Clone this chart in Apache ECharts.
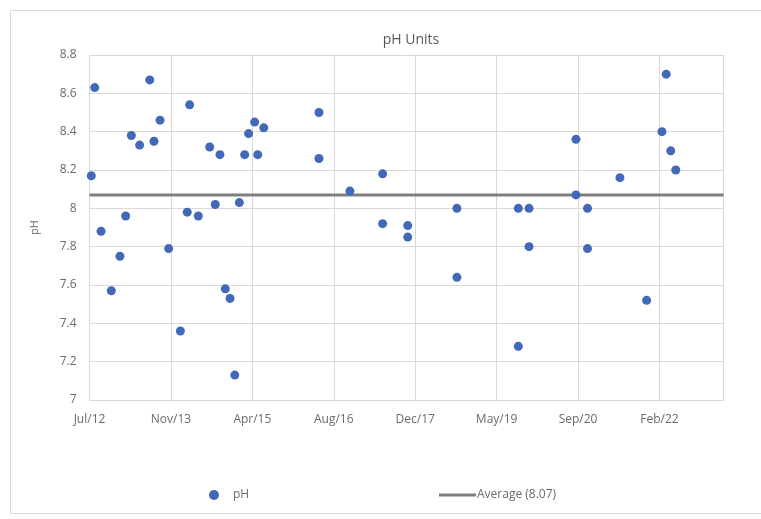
<!DOCTYPE html>
<html>
<head>
<meta charset="utf-8">
<script src="https://cdn.jsdelivr.net/npm/echarts@6/dist/echarts.min.js"></script>
<style>
  html, body { margin: 0; padding: 0; background: #ffffff; }
  #chart { width: 761px; height: 519px; }
</style>
</head>
<body>
<div id="chart"></div>
<script>
// Sampling dates and measured pH
const sampleDates = [
  '2012-07-18', '2012-08-08', '2012-09-16', '2012-11-18', '2013-01-10', '2013-02-14',
  '2013-03-21', '2013-05-11', '2013-07-12', '2013-08-07', '2013-09-13', '2013-11-05',
  '2014-01-16', '2014-02-27', '2014-03-14', '2014-05-06', '2014-07-15', '2014-08-18',
  '2014-09-16', '2014-10-19', '2014-11-17', '2014-12-16', '2015-01-13', '2015-02-15',
  '2015-03-11', '2015-04-17', '2015-05-06', '2015-06-12', '2016-05-16', '2016-05-16',
  '2016-11-22', '2017-06-11', '2017-06-11', '2017-11-12', '2017-11-12', '2018-09-10',
  '2018-09-10', '2019-09-22', '2019-09-22', '2019-11-27', '2019-11-27', '2020-09-10',
  '2020-09-10', '2020-11-20', '2020-11-20', '2021-06-07', '2021-11-18', '2022-02-20',
  '2022-03-18', '2022-04-15', '2022-05-16'
];
const phValues = [
  8.17, 8.63, 7.88, 7.57, 7.75, 7.96,
  8.38, 8.33, 8.67, 8.35, 8.46, 7.79,
  7.36, 7.98, 8.54, 7.96, 8.32, 8.02,
  8.28, 7.58, 7.53, 7.13, 8.03, 8.28,
  8.39, 8.45, 8.28, 8.42, 8.50, 8.26,
  8.09, 8.18, 7.92, 7.91, 7.85, 7.64,
  8.00, 8.00, 7.28, 8.00, 7.80, 8.36,
  8.07, 8.00, 7.79, 8.16, 7.52, 8.40,
  8.70, 8.30, 8.20
];

// Date axis: day offsets from the axis start, one major unit every 500 days
const axisStartDate = '2012-07-07';
const axisEndDays = 3893;
const xMajorDays = 500;
const xTickLabels = ['Jul/12', 'Nov/13', 'Apr/15', 'Aug/16', 'Dec/17', 'May/19', 'Sep/20', 'Feb/22'];

// pH axis
const yMin = 7, yMax = 8.8, yStep = 0.2;

const DAY_MS = 86400000;
const startMs = Date.parse(axisStartDate);
const toDays = d => (Date.parse(d) - startMs) / DAY_MS;

const points = sampleDates.map((d, i) => [toDays(d), phValues[i]]);
const mean = phValues.reduce((a, b) => a + b, 0) / phValues.length;
const meanRounded = Math.round(mean * 100) / 100;
const avgName = 'Average (' + meanRounded.toFixed(2) + ')';

const textColor = '#6b6b6b';
const gridColor = '#d9d9d9';
const markerColor = '#4169b8';
const avgColor = '#7f7f7f';
const fontFamily = '"Open Sans", "Liberation Sans", sans-serif';

const chart = echarts.init(document.getElementById('chart'), null, { renderer: 'canvas' });

chart.setOption({
  animation: false,
  backgroundColor: '#ffffff',
  textStyle: { fontFamily: fontFamily },
  title: {
    text: 'pH Units',
    left: 406,
    textAlign: 'center',
    top: 28,
    textStyle: { fontSize: 14, fontWeight: 'normal', color: '#595959', fontFamily: fontFamily }
  },
  graphic: [{
    type: 'rect',
    shape: { x: 10.5, y: 10.5, width: 760, height: 503 },
    style: { fill: 'none', stroke: '#d9d9d9', lineWidth: 1 },
    silent: true,
    z: -1
  }],
  grid: { left: 89.5, right: 37.5, top: 55, bottom: 119, containLabel: false },
  xAxis: {
    type: 'value',
    min: 0,
    max: axisEndDays,
    interval: xMajorDays,
    axisLine: { show: true, lineStyle: { color: gridColor, width: 1 } },
    axisTick: { show: false },
    splitLine: { show: true, lineStyle: { color: gridColor, width: 1 } },
    axisLabel: {
      color: textColor,
      fontSize: 12,
      fontFamily: fontFamily,
      margin: 14,
      showMaxLabel: false,
      formatter: v => (v % xMajorDays === 0 ? (xTickLabels[Math.round(v / xMajorDays)] || '') : '')
    }
  },
  yAxis: {
    type: 'value',
    min: yMin,
    max: yMax,
    interval: yStep,
    name: 'pH',
    nameLocation: 'middle',
    nameGap: 49,
    nameRotate: 90,
    nameTextStyle: { color: textColor, fontSize: 11, fontFamily: fontFamily },
    axisLine: { show: false },
    axisTick: { show: false },
    splitLine: { show: true, lineStyle: { color: gridColor, width: 1 } },
    axisLabel: {
      color: textColor,
      fontSize: 12,
      fontFamily: fontFamily,
      margin: 13,
      formatter: v => String(Math.round(v * 10) / 10)
    }
  },
  legend: [{
    data: [{ name: 'pH', icon: 'circle' }],
    left: 204,
    top: 484,
    itemWidth: 10,
    itemHeight: 10,
    textStyle: { color: textColor, fontSize: 12, fontFamily: fontFamily, padding: [0, 0, 0, 9] }
  }, {
    data: [{ name: avgName, icon: 'rect' }],
    left: 434,
    top: 484,
    itemWidth: 37,
    itemHeight: 3,
    itemGap: 0,
    textStyle: { color: textColor, fontSize: 12, fontFamily: fontFamily, padding: [0, 0, 0, -4] }
  }],
  series: [{
    name: 'pH',
    type: 'scatter',
    data: points,
    symbol: 'circle',
    symbolSize: 9,
    itemStyle: { color: markerColor, opacity: 1 },
    z: 3
  }, {
    name: avgName,
    type: 'line',
    data: [[0, meanRounded], [axisEndDays, meanRounded]],
    symbol: 'none',
    lineStyle: { color: avgColor, width: 3 },
    itemStyle: { color: avgColor },
    z: 2
  }]
});
</script>
</body>
</html>
